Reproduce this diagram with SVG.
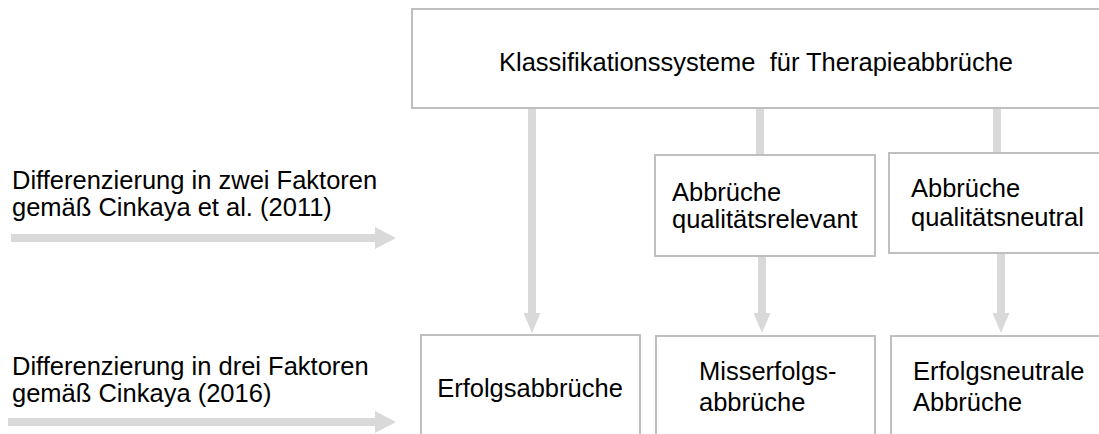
<svg xmlns="http://www.w3.org/2000/svg" width="1099" height="434" viewBox="0 0 1099 434">
<style>
.box{fill:#fff;stroke:#bfbfbf;stroke-width:2}
.conn{stroke:#d9d9d9;stroke-width:8;fill:none}
text{font-family:"Liberation Sans",Arial,sans-serif;font-size:25.5px;fill:#000}
</style>
<defs>
<marker id="ahv" markerUnits="userSpaceOnUse" markerWidth="20" markerHeight="17" refX="0" refY="8.5" orient="auto"><path d="M0,0 L20,8.5 L0,17 z" fill="#d9d9d9"/></marker>
<marker id="ahh" markerUnits="userSpaceOnUse" markerWidth="21" markerHeight="22" refX="0" refY="11" orient="auto"><path d="M0,0 L21,11 L0,22 z" fill="#d9d9d9"/></marker>
</defs>
<g id="connectors">
<line class="conn" x1="532" y1="108" x2="532" y2="313" marker-end="url(#ahv)"/>
<line class="conn" x1="760" y1="108" x2="760" y2="155"/>
<line class="conn" x1="997" y1="108" x2="997" y2="153"/>
<line class="conn" x1="762" y1="256" x2="762" y2="313" marker-end="url(#ahv)"/>
<line class="conn" x1="1001" y1="253" x2="1001" y2="313" marker-end="url(#ahv)"/>
<line class="conn" x1="11" y1="238" x2="375" y2="238" marker-end="url(#ahh)"/>
<line class="conn" x1="8" y1="422" x2="375" y2="422" marker-end="url(#ahh)"/>
</g>
<g id="top">
<rect class="box" x="412" y="9" width="700" height="99"/>
<text x="756" y="71" text-anchor="middle" xml:space="preserve">Klassifikationssysteme  für Therapieabbrüche</text>
</g>
<g id="label1">
<text x="12" y="189">Differenzierung in zwei Faktoren</text>
<text x="12" y="216">gemäß Cinkaya et al. (2011)</text>
</g>
<g id="label2">
<text x="12" y="375">Differenzierung in drei Faktoren</text>
<text x="12" y="402">gemäß Cinkaya (2016)</text>
</g>
<g id="relevant">
<rect class="box" x="655" y="155" width="220" height="101"/>
<text x="672" y="201">Abbrüche</text>
<text x="672" y="228">qualitätsrelevant</text>
</g>
<g id="neutral">
<rect class="box" x="889" y="153" width="300" height="100"/>
<text x="911" y="197">Abbrüche</text>
<text x="911" y="226">qualitätsneutral</text>
</g>
<g id="erfolg">
<rect class="box" x="421" y="335" width="219" height="200"/>
<text x="530" y="397" text-anchor="middle">Erfolgsabbrüche</text>
</g>
<g id="misserfolg">
<rect class="box" x="656" y="336" width="219" height="200"/>
<text x="699" y="380">Misserfolgs-</text>
<text x="699" y="411">abbrüche</text>
</g>
<g id="neutral3">
<rect class="box" x="891" y="336" width="300" height="200"/>
<text x="913" y="380">Erfolgsneutrale</text>
<text x="913" y="411">Abbrüche</text>
</g>
</svg>
